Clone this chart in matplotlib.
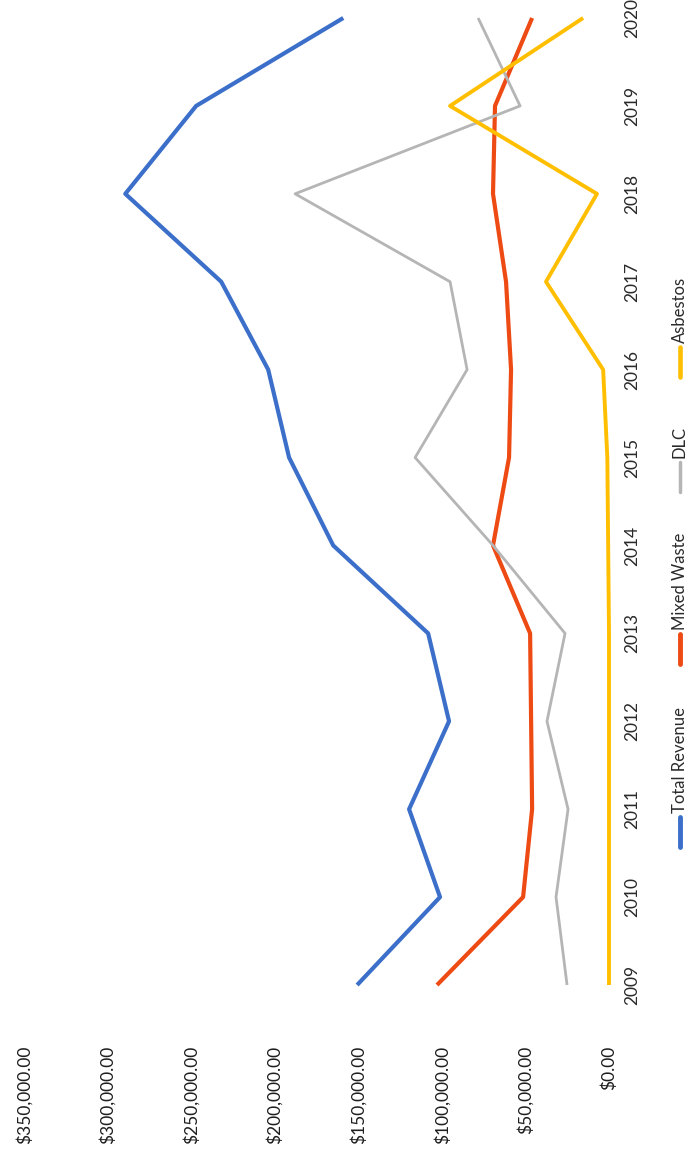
import matplotlib
matplotlib.use("Agg")
import matplotlib.pyplot as plt
from matplotlib.lines import Line2D

plt.rcParams['font.family'] = ['Lato', 'DejaVu Sans']

# Yearly revenue by stream
years = [2009, 2010, 2011, 2012, 2013, 2014, 2015, 2016, 2017, 2018, 2019, 2020]
total_revenue = [150700, 101100, 119600, 95700, 108200, 165000, 191400, 203900, 232000, 289400, 247000, 159000]
mixed_waste = [102900, 51400, 46000, 46600, 47200, 69400, 59800, 58600, 61600, 69400, 68200, 46000]
dlc = [25100, 31700, 24500, 37100, 26300, 69400, 116000, 84900, 95100, 187800, 53200, 78300]
asbestos = [0, 0, 0, 0, 0, 500, 1000, 3500, 37700, 7200, 95100, 15500]

value_ticks = [0, 50000, 100000, 150000, 200000, 250000, 300000, 350000]

series = [
    ("Total Revenue", total_revenue, "#3B6FC9", 3.0),
    ("Mixed Waste", mixed_waste, "#EE4A14", 3.0),
    ("DLC", dlc, "#B5B5B5", 2.0),
    ("Asbestos", asbestos, "#FFBF00", 2.8),
]

W, H = 690, 1155
fig = plt.figure(figsize=(W / 100, H / 100), dpi=100)

# chart is laid out sideways: values run right-to-left, years bottom-to-top
ax = fig.add_axes([24 / W, 1 - 985 / H, (609 - 24) / W, (985 - 18) / H])
for name, vals, color, lw in series:
    ax.plot(vals, years, color=color, linewidth=lw, clip_on=False,
            solid_capstyle="butt", solid_joinstyle="round")

ax.set_xlim(350000, 0)
ax.set_ylim(2009, 2020)
ax.set_xticks(value_ticks)
ax.set_xticklabels([f"${v:,.2f}" for v in value_ticks], rotation=90,
                   fontsize=12.5, color="#1e1e1e")
ax.tick_params(axis="x", length=0, pad=44)

ax.yaxis.tick_right()
ax.set_yticks(years)
ax.set_yticklabels([str(y) for y in years], rotation=90, va="center", ha="left",
                   fontsize=12.5, color="#2a2a2a")
ax.tick_params(axis="y", length=0, pad=11)

for s in ax.spines.values():
    s.set_visible(False)

# legend drawn by hand, rotated with the chart
legend_x = 680
legend_pos = [(817, 847), (634, 664), (462, 492), (347, 377)]
for (name, vals, color, lw), (top, bot) in zip(series, legend_pos):
    fig.add_artist(Line2D([legend_x / W, legend_x / W], [1 - top / H, 1 - bot / H],
                          color=color, linewidth=lw + 0.5, solid_capstyle="round",
                          transform=fig.transFigure))
    fig.text(legend_x / W, 1 - (top - 4) / H, name, rotation=90, ha="center", va="bottom",
             fontsize=12, color="#2a2a2a")

fig.savefig("out.png", dpi=100, facecolor="white")
